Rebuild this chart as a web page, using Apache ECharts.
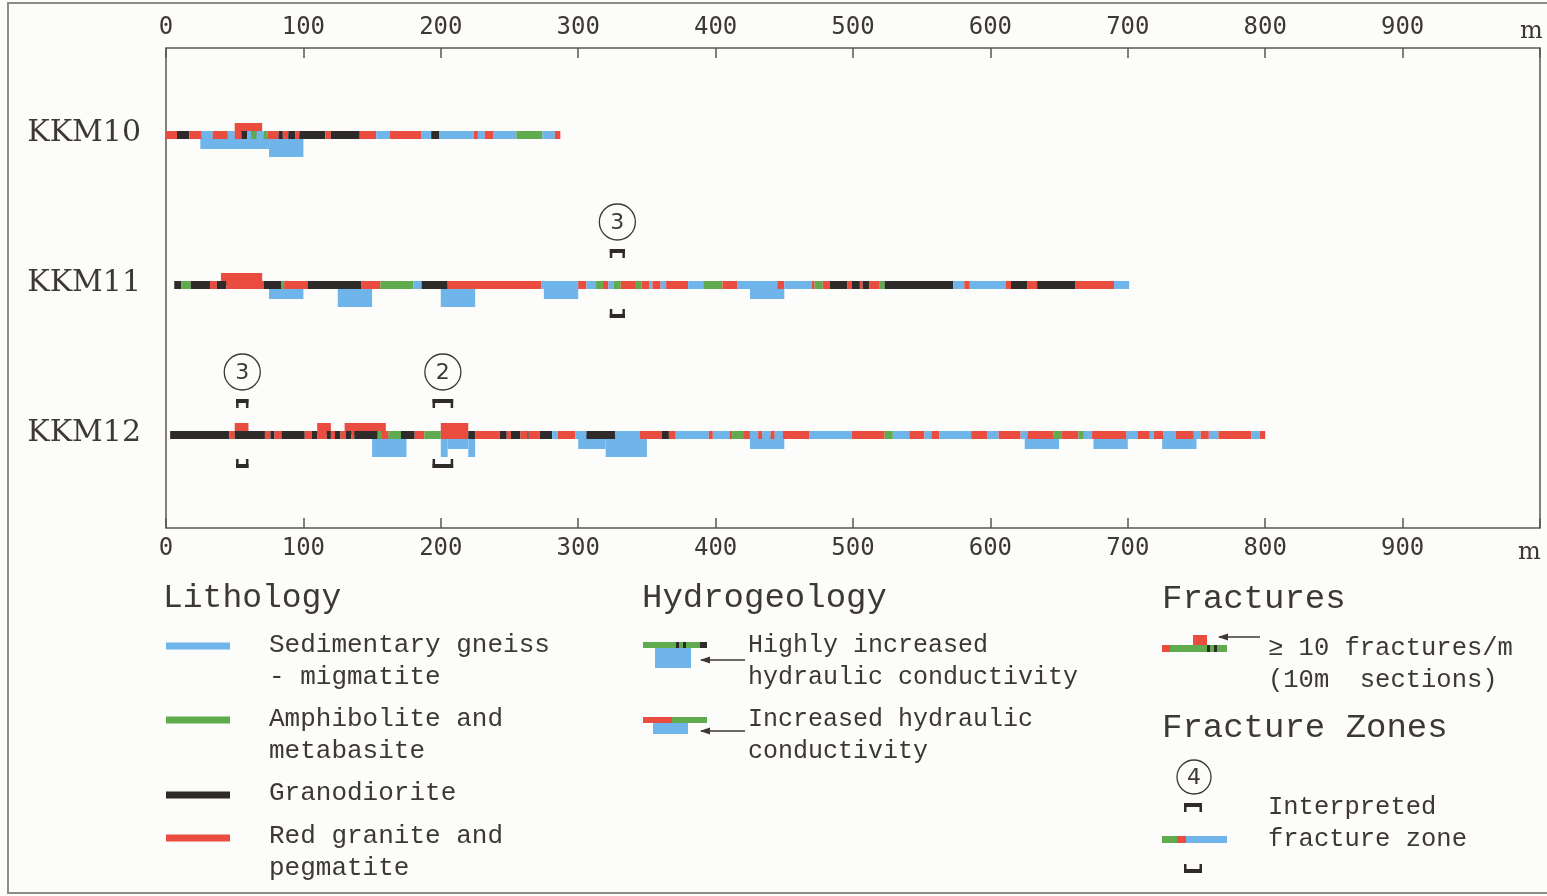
<!DOCTYPE html>
<html>
<head>
<meta charset="utf-8">
<title>KKM10-KKM12 borehole logs</title>
<script src="https://cdn.jsdelivr.net/npm/echarts@6.0.0/dist/echarts.min.js"></script>
<style>
html,body{margin:0;padding:0;background:#fcfcfa;}
#chart{width:1547px;height:896px;}
</style>
</head>
<body>
<div id="chart"></div>
<script>
// ---------------- DATA ----------------
const boreholes = ['KKM10', 'KKM11', 'KKM12'];
const axisTickValues = [0, 100, 200, 300, 400, 500, 600, 700, 800, 900];
const axisUnit = 'm';

// lithology codes: S sedimentary gneiss, A amphibolite, G granodiorite, R red granite
const lithologyCodes = ['S', 'A', 'G', 'R'];
const lithologyLegend = ['Sedimentary gneiss\n- migmatite', 'Amphibolite and\nmetabasite', 'Granodiorite', 'Red granite and\npegmatite'];

// [from m, to m, lithology code]
const kkm10Lithology = [
  [0,8,'R'],[8,17,'G'],[17,26,'R'],[26,34,'S'],[34,45,'R'],[45,50,'S'],[50,55,'R'],[55,59,'G'],
  [59,62,'S'],[62,66,'A'],[66,71,'S'],[71,74,'A'],[74,82,'R'],[82,85,'G'],[85,89,'R'],[89,94,'G'],
  [94,97,'R'],[97,116,'G'],[116,120,'R'],[120,141,'G'],[141,153,'R'],[153,163,'S'],[163,186,'R'],
  [186,193,'S'],[193,199,'G'],[199,224,'S'],[224,227,'R'],[227,232,'S'],[232,238,'R'],[238,255,'S'],
  [255,274,'A'],[274,283,'S'],[283,287,'R']
];
const kkm11Lithology = [
  [6,11,'G'],[11,18,'A'],[18,32,'G'],[32,37,'R'],[37,44,'G'],[44,71,'R'],[71,84,'G'],[84,86,'A'],
  [86,103,'R'],[103,142,'G'],[142,156,'R'],[156,180,'A'],[180,186,'S'],[186,205,'G'],[205,273,'R'],
  [273,300,'S'],[300,306,'R'],[306,313,'S'],[313,318,'A'],[318,322,'R'],[322,326,'S'],[326,331,'A'],
  [331,342,'R'],[342,346,'A'],[346,352,'R'],[352,354,'S'],[354,360,'R'],[360,364,'S'],[364,380,'R'],
  [380,391,'S'],[391,405,'A'],[405,416,'R'],[416,445,'S'],[445,450,'R'],[450,470,'S'],[470,472,'R'],
  [472,478,'A'],[478,483,'R'],[483,496,'G'],[496,499,'R'],[499,505,'G'],[505,507,'R'],[507,512,'G'],
  [512,519,'R'],[519,523,'A'],[523,573,'G'],[573,581,'S'],[581,585,'R'],[585,611,'S'],[611,615,'R'],
  [615,627,'G'],[627,634,'R'],[634,662,'G'],[662,690,'R'],[690,701,'S']
];
const kkm12Lithology = [
  [3,46,'G'],[46,50,'R'],[50,72,'G'],[72,76,'R'],[76,79,'G'],[79,84,'R'],[84,101,'G'],[101,106,'R'],
  [106,110,'G'],[110,117,'R'],[117,120,'G'],[120,123,'R'],[123,127,'G'],[127,131,'R'],[131,135,'G'],
  [135,137,'R'],[137,154,'G'],[154,157,'A'],[157,162,'R'],[162,171,'A'],[171,181,'G'],[181,188,'R'],
  [188,200,'A'],[200,220,'R'],[220,225,'G'],[225,243,'R'],[243,248,'G'],[248,251,'R'],[251,258,'G'],
  [258,263,'R'],[263,264,'G'],[264,272,'R'],[272,281,'G'],[281,285,'S'],[285,298,'R'],[298,306,'S'],
  [306,327,'G'],[327,345,'S'],[345,361,'R'],[361,366,'G'],[366,371,'R'],[371,395,'S'],[395,398,'R'],
  [398,410,'S'],[410,412,'R'],[412,420,'A'],[420,425,'R'],[425,431,'S'],[431,434,'R'],[434,440,'S'],
  [440,443,'R'],[443,449,'S'],[449,468,'R'],[468,499,'S'],[499,523,'R'],[523,529,'A'],[529,541,'S'],
  [541,552,'R'],[552,557,'S'],[557,563,'R'],[563,586,'S'],[586,598,'R'],[598,606,'S'],[606,622,'R'],
  [622,627,'S'],[627,646,'R'],[646,652,'A'],[652,664,'R'],[664,668,'A'],[668,674,'S'],[674,699,'R'],
  [699,707,'S'],[707,716,'R'],[716,719,'S'],[719,726,'R'],[726,735,'S'],[735,748,'R'],[748,753,'S'],
  [753,759,'R'],[759,766,'S'],[766,790,'R'],[790,796,'S'],[796,800,'R']
];

// hydraulic conductivity sections [from m, to m, level] level 1 = increased, 2 = highly increased
const kkm10Hydraulic = [[25,75,1],[75,100,2]];
const kkm11Hydraulic = [[75,100,1],[125,150,2],[200,225,2],[275,300,1],[425,450,1]];
const kkm12Hydraulic = [[150,175,2],[200,205,2],[205,220,1],[220,225,2],[300,320,1],[320,350,2],
  [425,450,1],[625,650,1],[675,700,1],[725,750,1]];

// >= 10 fractures/m (10 m sections) [from m, to m]
const kkm10Fractures = [[50,70]];
const kkm11Fractures = [[40,70]];
const kkm12Fractures = [[50,60],[110,120],[130,160],[200,220]];

// interpreted fracture zones [from m, to m, zone number]
const kkm10Zones = [];
const kkm11Zones = [[323,334,3]];
const kkm12Zones = [[51,60,3],[194,209,2]];

// ---------------- STYLE ----------------
const LITH_COLOR = { S: '#70b5ea', A: '#5fab4e', G: '#2f2b2b', R: '#ea4c40' };
const HYDRO_COLOR = '#70b5ea';
const FRACT_COLOR = '#ea4c40';
const TEXT = '#3d3836';
const INK = '#2f2b2b';
const STRIP = 8;
const MONO = '"Liberation Mono", "DejaVu Sans Mono", monospace';

// ---------------- BUILD SERIES DATA ----------------
const lithByHole = [kkm10Lithology, kkm11Lithology, kkm12Lithology];
const hydroByHole = [kkm10Hydraulic, kkm11Hydraulic, kkm12Hydraulic];
const fracByHole = [kkm10Fractures, kkm11Fractures, kkm12Fractures];
const zoneByHole = [kkm10Zones, kkm11Zones, kkm12Zones];

const lithData = [], hydroData = [], fracData = [], zoneData = [];
lithByHole.forEach((arr, r) => arr.forEach(d => lithData.push([d[0], d[1], r, lithologyCodes.indexOf(d[2])])));
hydroByHole.forEach((arr, r) => arr.forEach(d => hydroData.push([d[0], d[1], r, d[2]])));
fracByHole.forEach((arr, r) => arr.forEach(d => fracData.push([d[0], d[1], r])));
zoneByHole.forEach((arr, r) => arr.forEach(d => zoneData.push([d[0], d[1], r, d[2]])));
const labelData = boreholes.map((n, i) => [0, i]);

function span(api) {
  const a = api.coord([api.value(0), api.value(2)]);
  const b = api.coord([api.value(1), api.value(2)]);
  return { x0: a[0], x1: b[0], cy: a[1] };
}

function lithItem(params, api) {
  const s = span(api);
  return { type: 'rect', shape: { x: s.x0, y: s.cy - STRIP / 2, width: s.x1 - s.x0, height: STRIP },
    style: { fill: LITH_COLOR[lithologyCodes[api.value(3)]] } };
}
function hydroItem(params, api) {
  const s = span(api);
  const depth = api.value(3) === 2 ? 18 : 10;
  return { type: 'rect', shape: { x: s.x0, y: s.cy, width: s.x1 - s.x0, height: STRIP / 2 + depth },
    style: { fill: HYDRO_COLOR } };
}
function fracItem(params, api) {
  const s = span(api);
  return { type: 'rect', shape: { x: s.x0, y: s.cy - STRIP / 2 - 8, width: s.x1 - s.x0, height: 8 + STRIP / 2 },
    style: { fill: FRACT_COLOR } };
}
function bracketTop(x0, x1, y) {
  return [
    { type: 'rect', shape: { x: x0, y: y, width: x1 - x0, height: 4 }, style: { fill: INK } },
    { type: 'rect', shape: { x: x0, y: y, width: 2.5, height: 9 }, style: { fill: INK } },
    { type: 'rect', shape: { x: x1 - 2.5, y: y, width: 2.5, height: 9 }, style: { fill: INK } }
  ];
}
function bracketBottom(x0, x1, y) {
  return [
    { type: 'rect', shape: { x: x0, y: y + 5, width: x1 - x0, height: 4 }, style: { fill: INK } },
    { type: 'rect', shape: { x: x0, y: y, width: 2.5, height: 9 }, style: { fill: INK } },
    { type: 'rect', shape: { x: x1 - 2.5, y: y, width: 2.5, height: 9 }, style: { fill: INK } }
  ];
}
function zoneItem(params, api) {
  const s = span(api);
  const cx = (s.x0 + s.x1) / 2;
  return { type: 'group', children: [
    { type: 'circle', shape: { cx: cx, cy: s.cy - 63, r: 18 }, style: { fill: 'none', stroke: TEXT, lineWidth: 1.3 } },
    { type: 'text', x: cx, y: s.cy - 62, style: { text: String(api.value(3)), font: '22px "DejaVu Sans"', fill: TEXT, align: 'center', verticalAlign: 'middle' } }
  ].concat(bracketTop(s.x0, s.x1, s.cy - 36), bracketBottom(s.x0, s.x1, s.cy + 24)) };
}
function labelItem(params, api) {
  const p = api.coord([api.value(0), api.value(1)]);
  return { type: 'text', x: p[0] - 25, y: p[1] - 2,
    style: { text: boreholes[params.dataIndex], font: '30px "DejaVu Serif"', fill: TEXT, align: 'right', verticalAlign: 'middle' } };
}

// ---------------- LEGEND (graphic) ----------------
const g = [];
function txt(x, y, text, size, font) {
  g.push({ type: 'text', x: x, y: y, silent: true,
    style: { text: text, font: size + 'px ' + (font || MONO), fill: TEXT, align: 'left', verticalAlign: 'top', lineHeight: 32 } });
}
function box(x, y, w, h, fill) {
  g.push({ type: 'rect', silent: true, shape: { x: x, y: y, width: w, height: h }, style: { fill: fill } });
}
function arrow(x1, y1, x2, y2) {
  g.push({ type: 'line', silent: true, shape: { x1: x1, y1: y1, x2: x2, y2: y2 }, style: { stroke: TEXT, lineWidth: 1.3 } });
  g.push({ type: 'polygon', silent: true, shape: { points: [[x2 - 1, y2], [x2 + 9, y2 - 3.5], [x2 + 9, y2 + 3.5]] }, style: { fill: TEXT } });
}
// outer frame of figure
g.push({ type: 'polyline', silent: true, shape: { points: [[1547, 3], [8, 3], [8, 893], [1547, 893]] }, style: { stroke: '#8d8a88', lineWidth: 2, fill: 'none' } });
// unit labels
txt(1520, 16, axisUnit, 24, '"DejaVu Serif"');
txt(1518, 537, axisUnit, 24, '"DejaVu Serif"');

// Lithology
txt(163, 582, 'Lithology', 33);
const lithLegendY = [646, 720, 795, 838];
lithologyCodes.forEach((c, i) => {
  box(166, lithLegendY[i] - 3.5, 64, 7, LITH_COLOR[c]);
});
txt(269, 629, lithologyLegend[0], 26);
txt(269, 703, lithologyLegend[1], 26);
txt(269, 777, lithologyLegend[2], 26);
txt(269, 820, lithologyLegend[3], 26);

// Hydrogeology
txt(642, 582, 'Hydrogeology', 34);
box(655, 645, 36, 23, HYDRO_COLOR);
box(643, 642, 64, 6, LITH_COLOR.A);
box(676, 642, 3, 6, LITH_COLOR.G);
box(683, 642, 3, 6, LITH_COLOR.G);
box(700, 642, 7, 6, LITH_COLOR.G);
arrow(745, 660, 701, 660);
txt(748, 629, 'Highly increased\nhydraulic conductivity', 25);
box(653, 720, 35, 14, HYDRO_COLOR);
box(643, 717, 29, 6, LITH_COLOR.R);
box(672, 717, 35, 6, LITH_COLOR.A);
arrow(745, 731, 701, 731);
txt(748, 703, 'Increased hydraulic\nconductivity', 25);

// Fractures
txt(1162, 583, 'Fractures', 34);
box(1193, 635, 14, 12, FRACT_COLOR);
box(1162, 645, 8, 7, LITH_COLOR.R);
box(1170, 645, 57, 7, LITH_COLOR.A);
box(1207, 645, 3, 7, LITH_COLOR.G);
box(1214, 645, 3, 7, LITH_COLOR.G);
arrow(1260, 637, 1219, 637);
txt(1268, 632, '\u2265 10 fractures/m\n(10m  sections)', 25.5);

// Fracture zones
txt(1162, 712, 'Fracture Zones', 34);
g.push({ type: 'circle', silent: true, shape: { cx: 1194, cy: 777, r: 17 }, style: { fill: 'none', stroke: TEXT, lineWidth: 1.3 } });
g.push({ type: 'text', silent: true, x: 1194, y: 778, style: { text: '4', font: '22px "DejaVu Sans"', fill: TEXT, align: 'center', verticalAlign: 'middle' } });
bracketTop(1184, 1202, 803).forEach(e => { e.silent = true; g.push(e); });
box(1162, 836, 15, 7, LITH_COLOR.A);
box(1177, 836, 9, 7, LITH_COLOR.R);
box(1186, 836, 41, 7, LITH_COLOR.S);
bracketBottom(1184, 1202, 864).forEach(e => { e.silent = true; g.push(e); });
txt(1268, 791, 'Interpreted\nfracture zone', 25.5);

// ---------------- CHART ----------------
const axisCommon = {
  type: 'value', min: 0, max: 1000, interval: 100,
  axisLine: { show: false, onZero: false },
  axisTick: { show: true, inside: true, length: 10, lineStyle: { color: '#5a5656', width: 1.5 } },
  axisLabel: { fontFamily: '"DejaVu Sans Mono", monospace', fontSize: 24, color: TEXT,
    formatter: v => (axisTickValues.indexOf(v) >= 0 ? String(v) : '') },
  splitLine: { show: false }
};

const chart = echarts.init(document.getElementById('chart'), null, { renderer: 'canvas' });
chart.setOption({
  animation: false,
  backgroundColor: '#fcfcfa',
  grid: { left: 166, right: 7, top: 48, bottom: 368, show: true, borderColor: '#5a5656', borderWidth: 1.5, backgroundColor: 'transparent' },
  xAxis: [
    Object.assign({}, axisCommon, { position: 'bottom', axisLabel: Object.assign({}, axisCommon.axisLabel, { margin: 9 }) }),
    Object.assign({}, axisCommon, { position: 'top', axisLabel: Object.assign({}, axisCommon.axisLabel, { margin: 8 }) })
  ],
  yAxis: { type: 'value', min: -0.58, max: 2.62, inverse: true, show: false, axisLine: { onZero: false }, splitLine: { show: false } },
  series: [
    { type: 'custom', name: 'Hydraulic', renderItem: hydroItem, data: hydroData, encode: { x: [0, 1], y: 2 }, clip: false, z: 1, silent: true },
    { type: 'custom', name: 'Fractures', renderItem: fracItem, data: fracData, encode: { x: [0, 1], y: 2 }, clip: false, z: 1, silent: true },
    { type: 'custom', name: 'Lithology', renderItem: lithItem, data: lithData, encode: { x: [0, 1], y: 2 }, clip: false, z: 2, silent: true },
    { type: 'custom', name: 'Fracture zones', renderItem: zoneItem, data: zoneData, encode: { x: [0, 1], y: 2 }, clip: false, z: 3, silent: true },
    { type: 'custom', name: 'Boreholes', renderItem: labelItem, data: labelData, encode: { x: 0, y: 1 }, clip: false, z: 3, silent: true }
  ],
  graphic: g
});
</script>
</body>
</html>
